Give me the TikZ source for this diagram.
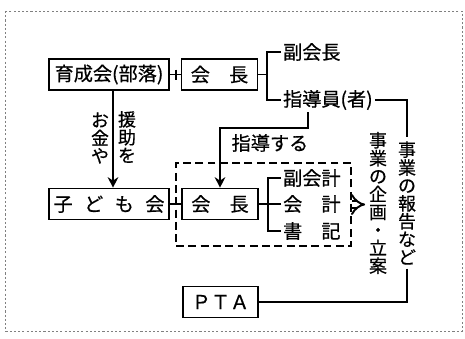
\documentclass[tikz,border=0pt]{standalone}
\usepackage{fontspec}
\setmainfont{Noto Sans CJK JP}[FakeBold=0.6]
\usepackage{tikz}
\usetikzlibrary{arrows.meta,calc,fit}

\tikzset{
  box/.style={draw, line width=0.9pt, inner sep=0pt, minimum height=0.62cm},
  txt/.style={inner sep=1pt, anchor=west},
  tate/.style={align=center, inner sep=2pt, font=\fontsize{10.2pt}{10.2pt}\selectfont},
  line/.style={line width=0.9pt},
  grouped/.style={draw, line width=0.9pt, dash pattern=on 4.5pt off 2.5pt, inner sep=0pt},
}

\begin{document}
\begin{tikzpicture}[x=0.02cm, y=-0.02cm, font=\fontsize{10.9pt}{12pt}\selectfont]
\useasboundingbox (0,0) rectangle (465,338);
\draw[gray, line width=0.5pt, dash pattern=on 1.2pt off 1.2pt] (5,11) rectangle (462,331);

\node[box, minimum width=2.4cm] (ikusei) at (109,74.5) {育成会(部落)};
\node[box, minimum width=1.52cm] (kaichoA) at (219.5,74.5) {会\quad 長};
\node[txt] (fukukaicho) at (281,52) {副会長};
\node[txt] (shidoin) at (281,100) {指導員(者)};

\node[box, minimum width=2.4cm] (kodomo) at (109,204) {\makebox[2.22cm][s]{子\hfill ど\hfill も\hfill 会}};
\node[box, minimum width=1.52cm] (kaichoB) at (220,204) {会\quad 長};
\node[txt] (fukukaikei) at (281,178) {副会計};
\node[txt] (kaikei) at (281,204) {\makebox[3em][s]{会\hfill 計}};
\node[txt] (shoki) at (281,231) {\makebox[3em][s]{書\hfill 記}};
\node[grouped, fit={(176,163) (351,246)}] (group) {};

\node[box, minimum width=1.5cm] (pta) at (220.5,302) {ＰＴＡ};
\node[tate] (plan) at (378,203) {事\\業\\の\\企\\画\\・\\立\\案};
\node[tate] (report) at (407,203) {事\\業\\の\\報\\告\\な\\ど};
\node[tate] (money) at (100,138) {お\\金\\や};
\node[tate] (aid) at (127,137) {援\\助\\を};
\node (guide) at (270,143) {指導する};

\coordinate (ja) at (267,74.5);
\coordinate (jb) at (268,204);
\coordinate (drop) at (308,128);

\draw[line] (ikusei) -- (kaichoA);
\draw[line] ($(kaichoA.west)+(-5,-5)$) -- ++(0,10);
\draw[line] (kaichoA) -- (ja);
\draw[line] (fukukaicho.west) -| (ja) |- (shidoin.west);

\draw[line, -{Stealth[length=6pt,width=6pt]}] ([xshift=0.08cm]ikusei.south) -- ([xshift=0.08cm]kodomo.north);
\draw[line] (kodomo) -- (kaichoB);
\draw[line] (kaichoB) -- (jb);
\draw[line] (fukukaikei.west) -| (jb) |- (shoki.west);
\draw[line] (kaikei.west) -- (jb);
\draw[line, -{Stealth[length=6pt,width=6pt]}] (drop |- shidoin.south) -- (drop) -| (kaichoB.north);

\draw[line] (shidoin.east) -| (report.north);
\draw[line] (report.south) |- (pta.east);
\draw[line width=1.1pt, double, double distance=3pt, -{Implies}] (group.east) -- (group.east -| plan.west);
\end{tikzpicture}
\end{document}
